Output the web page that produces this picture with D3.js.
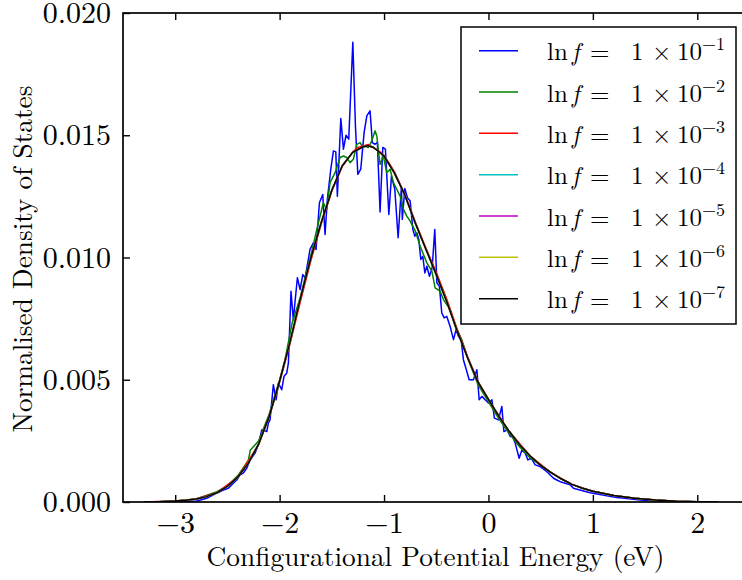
<!DOCTYPE html>
<html>
<head>
<meta charset="utf-8">
<script src="https://cdn.jsdelivr.net/npm/d3@7"></script>
<style>
  html, body { margin: 0; padding: 0; background: #fff; }
  svg { display: block; overflow: hidden; }
</style>
</head>
<body>
<svg id="chart" width="742" height="580"></svg>
<script>
// ---------------- DATA ----------------
const xTicks = [-3, -2, -1, 0, 1, 2];
const yTicks = [0, 0.005, 0.010, 0.015, 0.020];
const seriesLabels = ["-1", "-2", "-3", "-4", "-5", "-6", "-7"];
const seriesColors = ["#0000ff", "#008000", "#ff0000", "#00bfbf", "#bf00bf", "#bfbf00", "#000000"];

// ln f = 1e-1 (noisy)
const blue = [
[-3.24,0],[-3.0,0.00001],[-2.794,0.00004],[-2.698,0.00015],[-2.603,0.00036],[-2.539,0.00049],[-2.491,0.00056],[-2.443,0.00077],[-2.411,0.0009],[-2.379,0.00111],[-2.348,0.00118],[-2.315,0.00138],[-2.283,0.00172],[-2.235,0.002],[-2.204,0.00234],[-2.171,0.00295],[-2.123,0.00288],[-2.108,0.00323],
[-2.092,0.00336],[-2.06,0.0048],[-2.034,0.00418],[-2.012,0.00486],[-1.98,0.00459],[-1.958,0.00514],[-1.932,0.00527],[-1.916,0.00568],[-1.891,0.00862],[-1.869,0.00746],[-1.83,0.00917],[-1.804,0.00869],[-1.778,0.0093],[-1.756,0.00917],[-1.725,0.00992],
[-1.709,0.01033],[-1.677,0.0106],[-1.651,0.01033],[-1.619,0.01224],[-1.587,0.01258],[-1.565,0.01094],[-1.543,0.01238],[-1.51,0.01361],[-1.485,0.01436],[-1.462,0.01432],[-1.447,0.01251],[-1.414,0.01568],[-1.389,0.01443],[-1.364,0.015],[-1.338,0.01484],[-1.299,0.0188],[-1.274,0.01538],[-1.251,0.0134],[-1.223,0.01361],[-1.191,0.01511],[-1.165,0.01579],[-1.134,0.016],[-1.112,0.0147],[-1.086,0.01463],[-1.064,0.01471],[-1.038,0.01186],[-1.012,0.0145],[-0.987,0.01443],[-0.954,0.01176],[-0.929,0.01333],[-0.897,0.01279],[-0.865,0.01081],[-0.834,0.01286],[-0.825,0.01156],
[-0.801,0.01282],[-0.776,0.01245],[-0.75,0.01231],[-0.724,0.01115],[-0.705,0.01087],[-0.686,0.01101],[-0.667,0.01074],[-0.648,0.00992],[-0.629,0.01005],[-0.609,0.00937],[-0.59,0.00964],[-0.565,0.00923],[-0.539,0.00958],[-0.514,0.01115],[-0.494,0.00896],[-0.47,0.00882],[-0.447,0.00773],[-0.424,0.00753],[-0.399,0.00759],[-0.367,0.00718],[-0.335,0.00664],[-0.31,0.00705],[-0.287,0.00677],[-0.262,0.00664],[-0.24,0.00582],[-0.207,0.00534],[-0.185,0.005],[-0.144,0.005],[-0.111,0.00541],[-0.089,0.00418],[-0.063,0.00432],[-0.032,0.00418],[0,0.00405],[0.033,0.00418],[0.057,0.00343],[0.096,0.00336],[0.128,0.00391],[0.148,0.00288],[0.179,0.00295],[0.208,0.00268],[0.23,0.00268],[0.256,0.00241],[0.294,0.00179],[0.32,0.00213],[0.352,0.002],[0.378,0.00172],[0.409,0.00179],[0.447,0.00152],[0.495,0.00145],
[0.56,0.00124],[0.623,0.00097],[0.655,0.0009],[0.687,0.00083],[0.735,0.00077],[0.783,0.0007],[0.814,0.00056],[0.91,0.00045],[0.975,0.00038],[1.039,0.00033],[1.135,0.00025],[1.23,0.00018],[1.326,0.00014],[1.454,0.00008],[1.614,0.00004],[1.773,0.00001],[2.03,0]
];

// ln f = 1e-2 (mildly noisy)
const green = [
[-3.25,0],[-3.0,0.00004],[-2.8,0.00012],[-2.6,0.00042],[-2.5,0.00066],[-2.4,0.00108],[-2.3,0.0017],[-2.28,0.00213],[-2.2,0.0025],[-2.1,0.0036],[-2.0,0.005],[-1.95,0.0058],[-1.88,0.00732],[-1.8,0.00841],[-1.75,0.0093],[-1.7,0.0101],
[-1.644,0.01115],[-1.581,0.01224],[-1.549,0.01197],[-1.517,0.01306],[-1.469,0.01347],[-1.421,0.01409],[-1.389,0.01415],[-1.357,0.01409],[-1.325,0.01388],[-1.294,0.01402],[-1.261,0.01463],[-1.229,0.0147],[-1.204,0.0145],[-1.181,0.01456],[-1.15,0.0145],[-1.117,0.01477],[-1.086,0.01518],[-1.069,0.01497],[-1.054,0.01436],[-1.038,0.01381],[-1.006,0.01415],[-0.974,0.01347],[-0.942,0.01361],[-0.91,0.01306],[-0.878,0.01279],[-0.846,0.01251],[-0.814,0.01197],[-0.782,0.01169],[-0.75,0.01149],[-0.702,0.01110],
[-0.654,0.01046],[-0.59,0.00978],[-0.542,0.00944],[-0.511,0.00876],[-0.463,0.00862],[-0.431,0.00828],[-0.367,0.00787],[-0.319,0.00718],[-0.255,0.00664],[-0.2,0.0059],[-0.1,0.0048],[0.0,0.0041],[0.1,0.0034],[0.2,0.0028],[0.3,0.00225],[0.4,0.0018],[0.5,0.0015],[0.6,0.0012],[0.7,0.00094],[0.8,0.00072],[0.9,0.00056],[1.0,0.00044],[1.2,0.00027],[1.4,0.00015],[1.6,0.00008],[1.8,0.00003],[2.0,0.00001],[2.2,0]
];

// ln f = 1e-3 (almost smooth)
const red = [
[-3.3,0],[-3.0,0.00004],[-2.8,0.00012],[-2.6,0.00038],[-2.4,0.00102],[-2.2,0.00236],[-2.1,0.00348],[-2.0,0.0049],[-1.9,0.00648],[-1.8,0.00822],[-1.7,0.00988],[-1.6,0.0114],[-1.5,0.01272],[-1.4,0.01372],[-1.3,0.01432],[-1.25,0.0145],[-1.15,0.01462],[-1.1,0.01448],[-1.05,0.01436],[-1.0,0.01418],[-0.95,0.01385],[-0.9,0.0135],[-0.85,0.01303],[-0.8,0.01258],[-0.7,0.01145],[-0.6,0.0104],[-0.5,0.0094],[-0.4,0.0083],[-0.3,0.00708],[-0.2,0.00595],[-0.1,0.00493],[0.0,0.0042],[0.2,0.00288],[0.4,0.00188],[0.6,0.0012],[0.8,0.00072],[1.0,0.00044],[1.2,0.00027],[1.4,0.00015],[1.6,0.00008],[1.8,0.00003],[2.0,0.00001],[2.2,0]
];

// ln f = 1e-4 ... 1e-7 (converged, indistinguishable from each other)
const converged = [
[-3.3,0],[-3.15,0.00001],[-3.0,0.00004],[-2.9,0.00007],[-2.8,0.00012],[-2.7,0.00022],[-2.6,0.00038],[-2.5,0.00064],[-2.4,0.00102],[-2.3,0.00158],[-2.2,0.00238],[-2.1,0.0035],[-2.0,0.00495],[-1.9,0.00655],[-1.8,0.00835],[-1.7,0.01],[-1.6,0.01145],[-1.5,0.01275],[-1.4,0.01375],[-1.3,0.0143],[-1.2,0.01453],[-1.15,0.01457],[-1.1,0.0145],[-1.0,0.01415],[-0.9,0.01345],[-0.8,0.01255],[-0.7,0.0114],[-0.6,0.01035],[-0.5,0.0093],[-0.4,0.0082],[-0.3,0.007],[-0.2,0.0059],[-0.1,0.0049],[0.0,0.0042],[0.1,0.0035],[0.2,0.00288],[0.3,0.00233],[0.4,0.00188],[0.5,0.0015],[0.6,0.0012],[0.7,0.00094],[0.8,0.00072],[0.9,0.00056],[1.0,0.00044],[1.2,0.00027],[1.4,0.00015],[1.6,0.00008],[1.8,0.00003],[2.0,0.00001],[2.2,0]
];
const cyan = converged, magenta = converged, yellow = converged, black = converged;
const allSeries = [blue, green, red, cyan, magenta, yellow, black];

// ---------------- CHART ----------------
const FONT = '"Latin Modern Roman", "Liberation Serif", serif';
const svg = d3.select("#chart");
const x = d3.scaleLinear().domain([-3.5, 2.5]).range([123, 749.5]);
const y = d3.scaleLinear().domain([0, 0.02]).range([502, 13]);

const line = d3.line().x(d => x(d[0])).y(d => y(d[1]));

svg.append("defs").append("clipPath").attr("id", "plotclip")
  .append("rect").attr("x", x(-3.5)).attr("y", y(0.02))
  .attr("width", x(2.5) - x(-3.5)).attr("height", y(0) - y(0.02));

const plot = svg.append("g").attr("clip-path", "url(#plotclip)");
allSeries.forEach((s, i) => {
  plot.append("path").datum(s)
    .attr("d", line)
    .attr("fill", "none")
    .attr("stroke", seriesColors[i])
    .attr("stroke-width", 1.5)
    .attr("stroke-linejoin", "round");
});

// axes (inward ticks)
const gx = svg.append("g").attr("transform", `translate(0,${y(0)})`)
  .call(d3.axisBottom(x).tickValues(xTicks).tickSize(-7).tickPadding(10).tickFormat(d3.format("d")));
const gxTop = svg.append("g").attr("transform", `translate(0,${y(0.02)})`)
  .call(d3.axisTop(x).tickValues(xTicks).tickSize(-7).tickFormat(""));
const gy = svg.append("g").attr("transform", `translate(${x(-3.5)},0)`)
  .call(d3.axisLeft(y).tickValues(yTicks).tickSize(-7).tickPadding(12).tickFormat(d3.format(".3f")));
[gx, gxTop, gy].forEach(g => {
  g.attr("font-family", FONT).attr("font-size", 30);
  g.select(".domain").remove();
  g.selectAll(".tick line").attr("stroke", "#000").attr("stroke-width", 1.4);
  g.selectAll(".tick text").attr("font-family", FONT).style("font-family", FONT)
    .style("font-size", "30px").attr("fill", "#000");
});

// frame
svg.append("rect")
  .attr("x", x(-3.5)).attr("y", y(0.02))
  .attr("width", x(2.5) - x(-3.5)).attr("height", y(0) - y(0.02))
  .attr("fill", "none").attr("stroke", "#000").attr("stroke-width", 1.7);

// fit a text's font size so its width matches a target width
function fitWidth(sel, target, base) {
  const w = sel.node().getComputedTextLength();
  if (w > 0) sel.style("font-size", (base * target / w) + "px");
}

// axis labels
const xl = svg.append("text")
  .attr("x", 435.5).attr("y", 566)
  .attr("text-anchor", "middle")
  .attr("font-family", FONT).style("font-family", FONT)
  .style("font-size", "28px")
  .text("Configurational Potential Energy (eV)");
fitWidth(xl, 458, 28);

const yl = svg.append("text")
  .attr("transform", "translate(32,259) rotate(-90)")
  .attr("text-anchor", "middle")
  .attr("font-family", FONT).style("font-family", FONT)
  .style("font-size", "28px")
  .text("Normalised Density of States");
fitWidth(yl, 347, 28);

// legend
const lg = svg.append("g");
lg.append("rect").attr("x", 461).attr("y", 27).attr("width", 275).attr("height", 297)
  .attr("fill", "#fff").attr("stroke", "#000").attr("stroke-width", 1.5);
seriesLabels.forEach((lab, i) => {
  const yy = 50.7 + i * 41.33;
  lg.append("line").attr("x1", 479).attr("x2", 518).attr("y1", yy).attr("y2", yy)
    .attr("stroke", seriesColors[i]).attr("stroke-width", 1.5);
  const t = lg.append("text").attr("y", yy + 9.5)
    .attr("font-family", FONT).style("font-family", FONT).style("font-size", "25px");
  t.append("tspan").attr("x", 547).text("ln");
  t.append("tspan").attr("x", 572).style("font-style", "italic").text("f");
  t.append("tspan").attr("x", 590).text("=");
  t.append("tspan").attr("x", 631).text("1");
  t.append("tspan").attr("x", 652).text("×");
  t.append("tspan").attr("x", 677).text("10");
  t.append("tspan").attr("x", 702).attr("dy", -10).style("font-size", "18px")
    .text(lab.replace("-", "\u2212"));
});
</script>
</body>
</html>
